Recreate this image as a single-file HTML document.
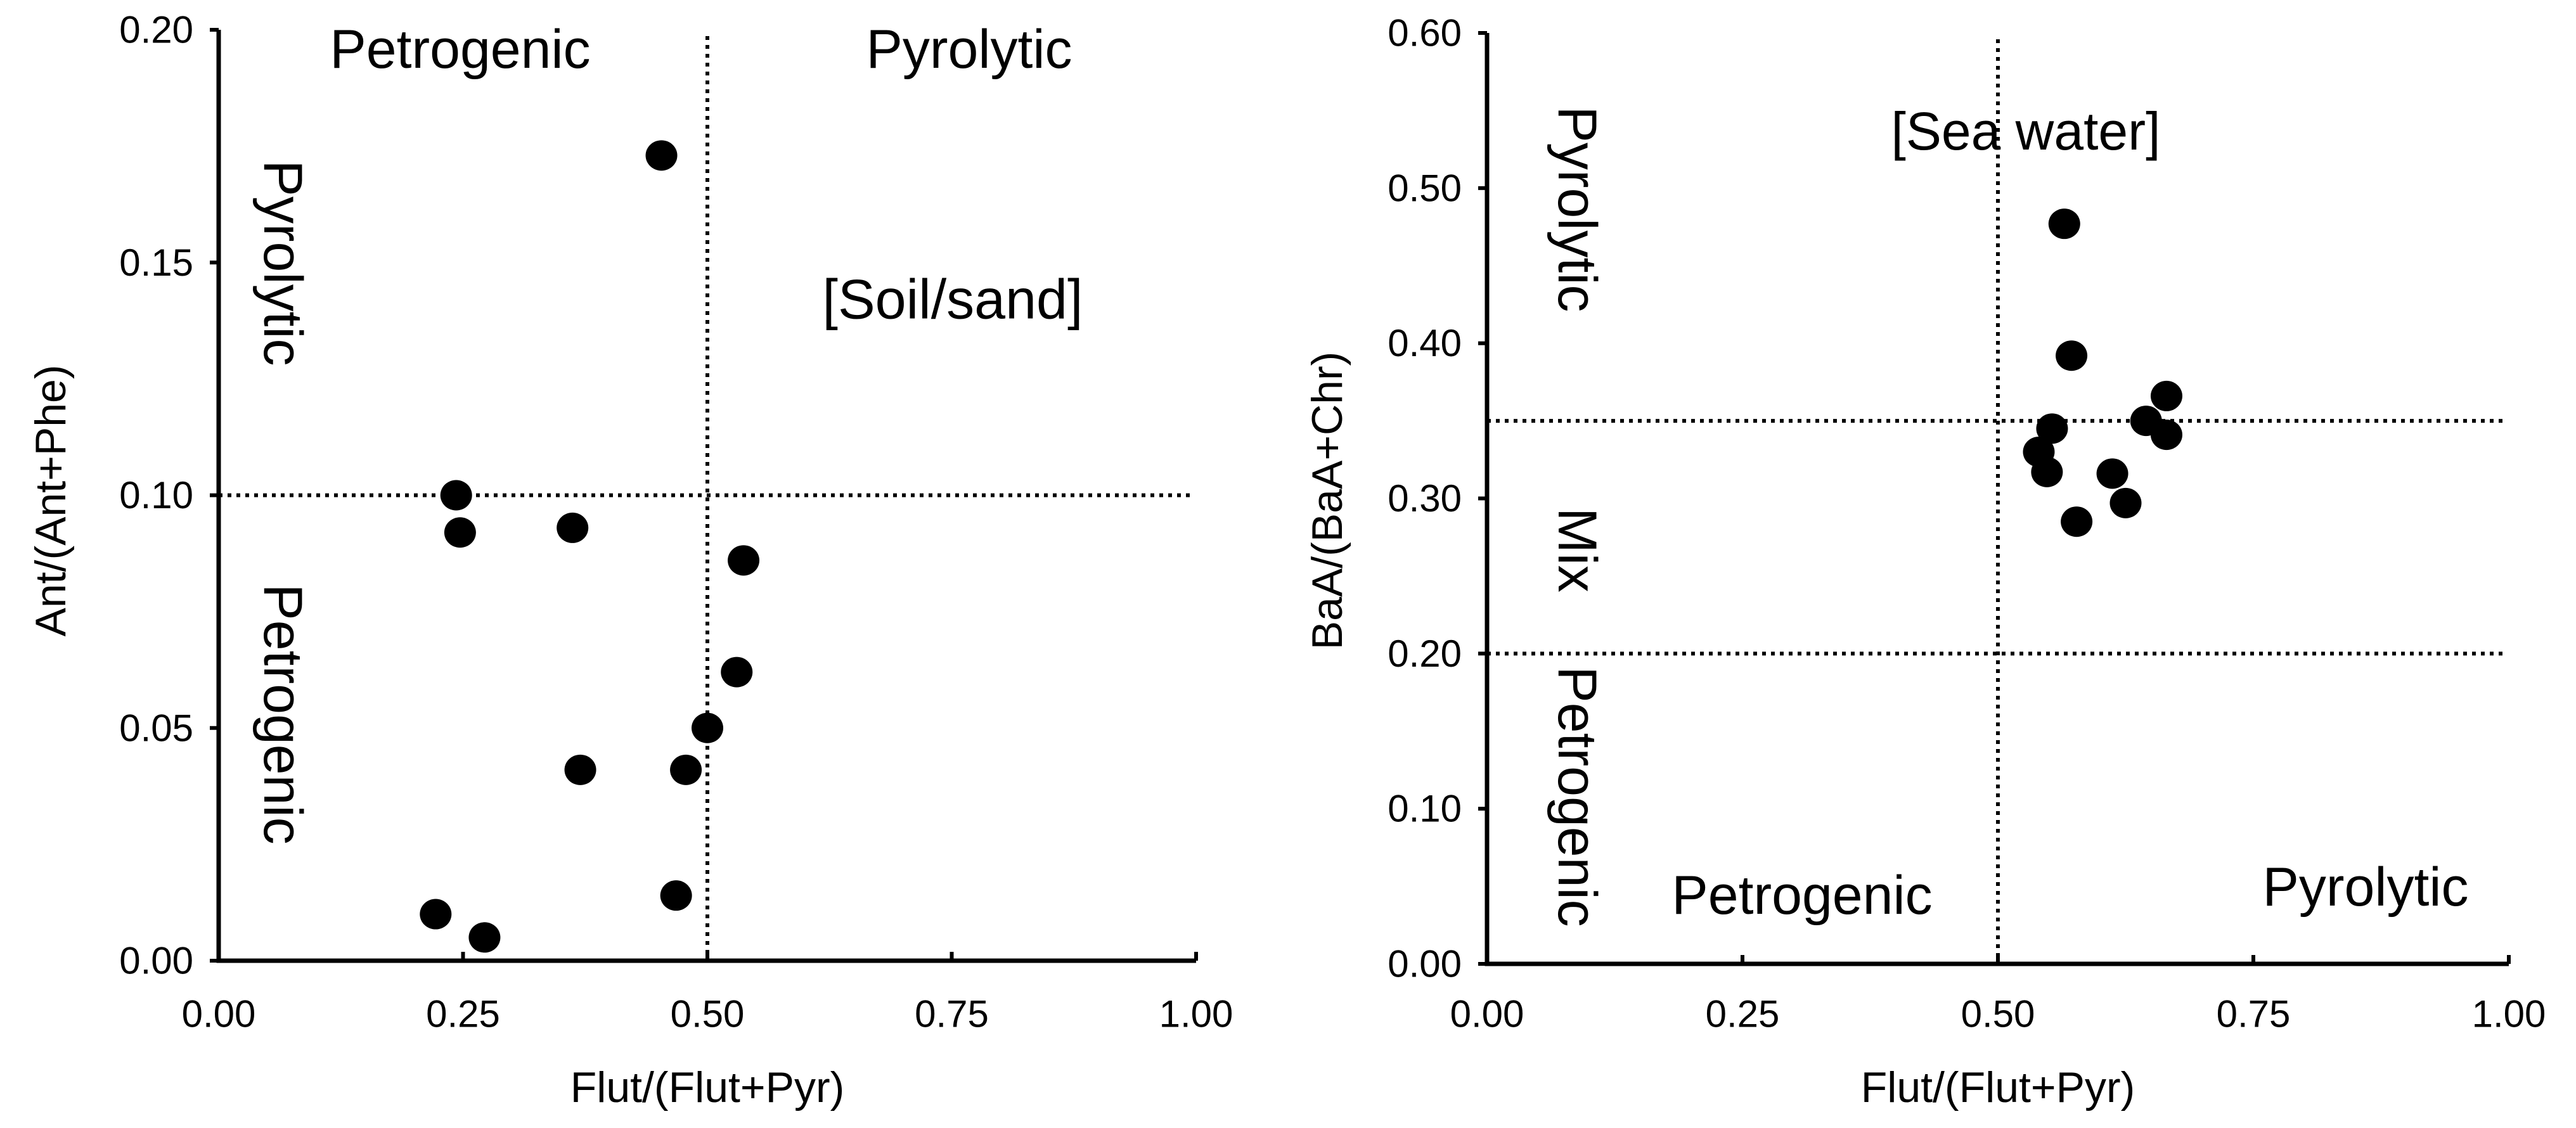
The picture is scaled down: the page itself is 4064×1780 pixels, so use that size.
<!DOCTYPE html>
<html><head><meta charset="utf-8"><style>
html,body{margin:0;padding:0;background:#fff}
svg{display:block;font-family:"Liberation Sans",Arial,sans-serif}
</style></head><body>
<svg id="chart" width="4064" height="1780" viewBox="0 0 4064 1780" xmlns="http://www.w3.org/2000/svg"></svg>
<script>
const leftX = [0.453,0.243,0.247,0.362,0.537,0.530,0.500,0.370,0.478,0.468,0.222,0.272];
const leftY = [0.173,0.100,0.092,0.093,0.086,0.062,0.050,0.041,0.041,0.014,0.010,0.005];
const leftYTicks = [0,0.05,0.10,0.15,0.20];
const rightX = [0.565,0.572,0.553,0.540,0.548,0.577,0.612,0.625,0.645,0.665,0.665];
const rightY = [0.477,0.392,0.345,0.330,0.317,0.285,0.316,0.297,0.350,0.366,0.341];
const rightYTicks = [0,0.10,0.20,0.30,0.40,0.50,0.60];
const xTicks = [0,0.25,0.50,0.75,1.00];

const NS="http://www.w3.org/2000/svg";
const svg=document.getElementById('chart');
function mk(tag,attrs,parent){const e=document.createElementNS(NS,tag);for(const k in attrs)e.setAttribute(k,attrs[k]);(parent||svg).appendChild(e);return e;}
function txt(s,x,y,size,parent,rot,anchor){const t=mk('text',{x:x,y:y,'font-size':size,'text-anchor':anchor||'middle','dominant-baseline':'central',fill:'#000'},parent);if(rot)t.setAttribute('transform','rotate('+rot+' '+x+' '+y+')');t.textContent=s;return t;}

function panel(cfg){
  const g=mk('g',{});
  
  
  const sx=v=>cfg.x0+(cfg.x1-cfg.x0)*v;
  const sy=v=>cfg.y0-(cfg.y0-cfg.yTop)*(v/cfg.yMax);
  const vl=mk('line',{x1:sx(0.5),x2:sx(0.5),y1:cfg.yTop+10,y2:cfg.y0,stroke:'#000','stroke-width':6,'stroke-dasharray':'6 8'},g);
  
  
  cfg.hLines.forEach(h=>{
    const l=mk('line',{x1:cfg.x0,x2:cfg.hEnd,y1:sy(h),y2:sy(h),stroke:'#000','stroke-width':6,'stroke-dasharray':'6 8'},g);
    
    
  });
  const ax=mk('path',{d:`M${cfg.x0} ${cfg.yTop}V${cfg.y0}H${cfg.x1}`,fill:'none',stroke:'#000','stroke-width':7},g);
  
  
  cfg.yTicks.forEach(v=>{
    mk('line',{x1:cfg.x0-14,x2:cfg.x0,y1:sy(v),y2:sy(v),stroke:'#000','stroke-width':6},g);
    const t=txt(v.toFixed(2),cfg.x0-40,sy(v),60,g,0,'end');
    
    
  });
  xTicks.forEach(v=>{
    mk('line',{x1:sx(v),x2:sx(v),y1:cfg.y0,y2:cfg.y0-14,stroke:'#000','stroke-width':6},g);
    const t=txt(v.toFixed(2),sx(v),1600,60,g);
    
    
  });
  const xt=txt('Flut/(Flut+Pyr)',(cfg.x0+cfg.x1)/2,1716,68,g);
  
  
  const yt=txt(cfg.yTitle,cfg.yTitleX,790,68,g,-90);
  
  
  cfg.labels.forEach(L=>{
    const t=txt(L[0],L[1],L[2],L[3],g,L[4]);
    
    
  });
  cfg.xs.forEach((xv,i)=>{
    const c=mk('ellipse',{cx:sx(xv),cy:sy(cfg.ys[i]),rx:25,ry:24,fill:'#000'},g);
    
    
  });
}
panel({name:'soil-sand-panel',x0:345,x1:1887,y0:1516,yTop:47,yMax:0.20,yTicks:leftYTicks,xs:leftX,ys:leftY,hLines:[0.10],hEnd:1880,
  yTitle:'Ant/(Ant+Phe)',yTitleX:80,
  labels:[['Petrogenic',726,78,86,0],['Pyrolytic',1529,78,86,0],['Pyrolytic',446,415,86,90],['Petrogenic',446,1127,86,90],['[Soil/sand]',1503,472,88,0]]});
panel({name:'sea-water-panel',x0:2346,x1:3958,y0:1521,yTop:52,yMax:0.60,yTicks:rightYTicks,xs:rightX,ys:rightY,hLines:[0.35,0.20],hEnd:3952,
  yTitle:'BaA/(BaA+Chr)',yTitleX:2094,
  labels:[['[Sea water]',3196,207,84,0],['Pyrolytic',2488,330,86,90],['Mix',2488,868,86,90],['Petrogenic',2488,1257,86,90],['Petrogenic',2843,1413,86,0],['Pyrolytic',3732,1400,86,0]]});
</script>
</body></html>
